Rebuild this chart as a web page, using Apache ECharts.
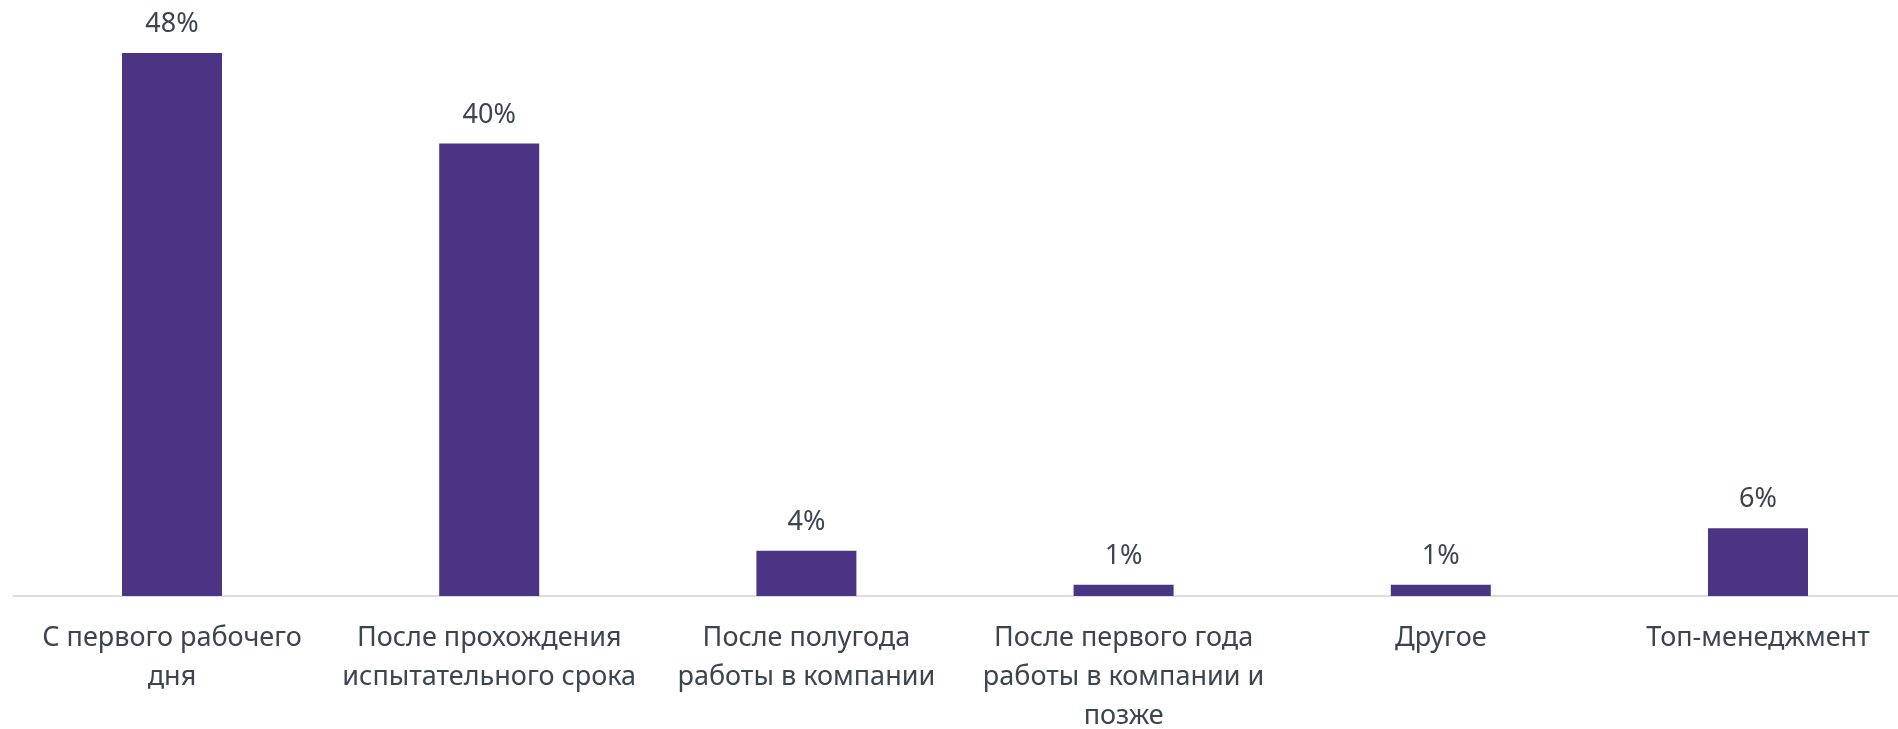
<!DOCTYPE html>
<html>
<head>
<meta charset="utf-8">
<script src="https://cdn.jsdelivr.net/npm/echarts@6/dist/echarts.min.js"></script>
<style>
  html, body { margin: 0; padding: 0; background: #fff; }
  #chart { width: 1898px; height: 729px; }
</style>
</head>
<body>
<div id="chart"></div>
<script>
// категории (переносы строк как на картинке)
var categories = [
  'С первого рабочего\nдня',
  'После прохождения\nиспытательного срока',
  'После полугода\nработы в компании',
  'После первого года\nработы в компании и\nпозже',
  'Другое',
  'Топ-менеджмент'
];
var values = [48, 40, 4, 1, 1, 6];

var chart = echarts.init(document.getElementById('chart'));
var option = {
  animation: false,
  grid: {
    left: 13.4,
    right: -18.6,
    top: 30.4,
    bottom: 133,
    outerBoundsMode: 'none',
    containLabel: false
  },
  xAxis: {
    type: 'category',
    data: categories,
    axisLine: { lineStyle: { color: '#d9dde3', width: 2 } },
    axisTick: { show: false },
    axisLabel: {
      color: '#3b4450',
      fontFamily: 'Noto Sans',
      fontSize: 27,
      lineHeight: 39,
      margin: 23,
      interval: 0
    }
  },
  yAxis: {
    type: 'value',
    min: 0,
    max: 50,
    show: false,
    splitLine: { show: false }
  },
  series: [{
    type: 'bar',
    data: values,
    barWidth: 100,
    itemStyle: { color: '#4b3483' },
    label: {
      show: true,
      position: 'top',
      distance: 15,
      color: '#3b4450',
      fontFamily: 'Noto Sans',
      fontSize: 27,
      formatter: '{c}%'
    }
  }]
};
chart.setOption(option);
</script>
</body>
</html>
